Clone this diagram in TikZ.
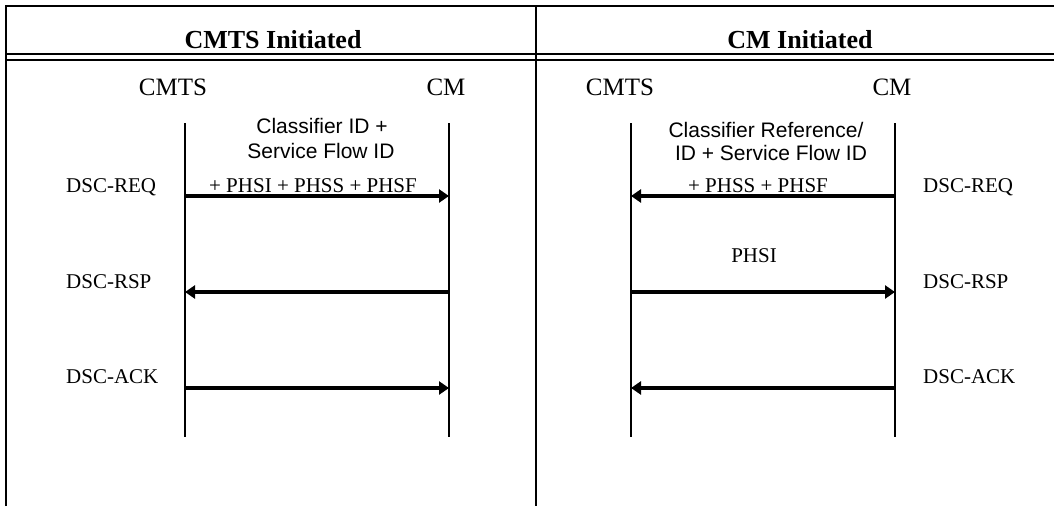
\documentclass[tikz,border=0pt]{standalone}
\usepackage{fontspec}
\setmainfont{Liberation Serif}
\newfontfamily\arialfont{Liberation Sans}
\usetikzlibrary{arrows.meta,positioning}

\begin{document}
\begin{tikzpicture}[
  x=1pt, y=-1pt,
  frame/.style={line width=2.5pt},
  life/.style={line width=2.2pt},
  msg/.style={-{Triangle[length=10pt,width=13pt]}, line width=4pt},
  head/.style={font=\fontsize{26}{29}\selectfont\bfseries, anchor=base, inner sep=0pt},
  party/.style={font=\fontsize{25}{28}\selectfont, anchor=base, inner sep=0pt},
  lbl/.style={font=\fontsize{21}{23}\selectfont, anchor=base west, inner sep=0pt},
  param/.style={font=\arialfont\fontsize{21}{23}\selectfont, anchor=base, inner sep=0pt},
  fld/.style={font=\fontsize{21}{23}\selectfont, anchor=base, inner sep=0pt}
]
\useasboundingbox (0,0) rectangle (1054,506);

% table frame
\draw[frame] (6,506) -- (6,6) -- (1054,6);
\draw[frame] (536,6) -- (536,506);
\draw[line width=2pt] (6,54) -- (1054,54);
\draw[line width=2pt] (6,59.5) -- (1054,59.5);

\node[head] (cmtsinit) at (273,48) {CMTS Initiated};
\node[head] (cminit) at (800,48) {CM Initiated};

% parties
\node[party] (lcmtsname) at (173,95) {CMTS};
\node[party] (lcmname) at (446,95) {CM};
\node[party] (rcmtsname) at (620,95) {CMTS};
\node[party] (rcmname) at (892,95) {CM};

% lifelines
\foreach \n/\x in {lcmts/185, lcm/449, rcmts/631, rcm/895}{
  \coordinate (\n) at (\x,123);
  \coordinate (\n-end) at (\x,437);
  \draw[life] (\n) -- (\n-end);
}

% message levels
\coordinate (req) at (0,196);
\coordinate (rsp) at (0,292);
\coordinate (ack) at (0,388);

% CMTS initiated
\draw[msg] (lcmts |- req) -- (lcm |- req);
\draw[msg] (lcm |- rsp) -- (lcmts |- rsp);
\draw[msg] (lcmts |- ack) -- (lcm |- ack);

\node[lbl] (lreq) at (66,192) {DSC-REQ};
\node[lbl] (lrsp) at (66,288) {DSC-RSP};
\node[lbl] (lack) at (66,383) {DSC-ACK};

\node[param] (lpar1) at (322,133) {Classifier ID +};
\node[param] (lpar2) at (321,158) {Service Flow ID};
\node[fld] (lfld) at (313,192) {+ PHSI + PHSS + PHSF};

% CM initiated
\draw[msg] (rcm |- req) -- (rcmts |- req);
\draw[msg] (rcmts |- rsp) -- (rcm |- rsp);
\draw[msg] (rcm |- ack) -- (rcmts |- ack);

\node[lbl] (rreq) at (923,192) {DSC-REQ};
\node[lbl] (rrsp) at (923,288) {DSC-RSP};
\node[lbl] (rack) at (923,383) {DSC-ACK};

\node[param] (rpar1) at (766,137) {Classifier Reference/};
\node[param] (rpar2) at (771,160) {ID + Service Flow ID};
\node[fld] (rfld) at (758,192) {+ PHSS + PHSF};
\node[fld] (rphsi) at (754,262) {PHSI};
\end{tikzpicture}
\end{document}
